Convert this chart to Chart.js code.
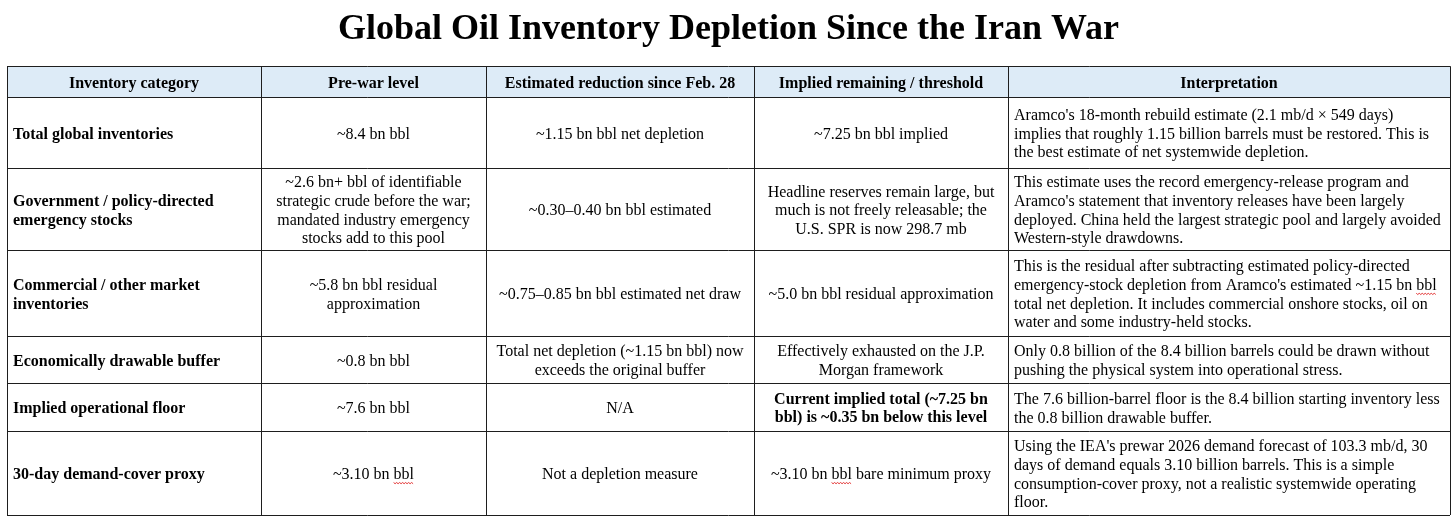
<!DOCTYPE html>
<html>
<head>
<meta charset="utf-8">
<script src="https://cdn.jsdelivr.net/npm/chart.js@4/dist/chart.umd.min.js"></script>
<style>
  html, body { margin: 0; padding: 0; background: #fff; }
  #wrap { width: 1456px; height: 522px; }
</style>
</head>
<body>
<div id="wrap"><canvas id="inventoryTable"></canvas></div>
<script>
// Table contents
const title = "Global Oil Inventory Depletion Since the Iran War";

const headers = [
  "Inventory category",
  "Pre-war level",
  "Estimated reduction since Feb. 28",
  "Implied remaining / threshold",
  "Interpretation",
];

const categories = [
  "Total global inventories",
  "Government / policy-directed\nemergency stocks",
  "Commercial / other market\ninventories",
  "Economically drawable buffer",
  "Implied operational floor",
  "30-day demand-cover proxy",
];

const preWarLevel = [
  "~8.4 bn bbl",
  "~2.6 bn+ bbl of identifiable\nstrategic crude before the war;\nmandated industry emergency\nstocks add to this pool",
  "~5.8 bn bbl residual\napproximation",
  "~0.8 bn bbl",
  "~7.6 bn bbl",
  "~3.10 bn bbl",
];

const reduction = [
  "~1.15 bn bbl net depletion",
  "~0.30\u20130.40 bn bbl estimated",
  "~0.75\u20130.85 bn bbl estimated net draw",
  "Total net depletion (~1.15 bn bbl) now\nexceeds the original buffer",
  "N/A",
  "Not a depletion measure",
];

const remaining = [
  "~7.25 bn bbl implied",
  "Headline reserves remain large, but\nmuch is not freely releasable; the\nU.S. SPR is now 298.7 mb",
  "~5.0 bn bbl residual approximation",
  "Effectively exhausted on the J.P.\nMorgan framework",
  "Current implied total (~7.25 bn\nbbl) is ~0.35 bn below this level",
  "~3.10 bn bbl bare minimum proxy",
];

const interpretation = [
  "Aramco's 18-month rebuild estimate (2.1 mb/d \u00d7 549 days)\nimplies that roughly 1.15 billion barrels must be restored. This is\nthe best estimate of net systemwide depletion.",
  "This estimate uses the record emergency-release program and\nAramco's statement that inventory releases have been largely\ndeployed. China held the largest strategic pool and largely avoided\nWestern-style drawdowns.",
  "This is the residual after subtracting estimated policy-directed\nemergency-stock depletion from Aramco's estimated ~1.15 bn bbl\ntotal net depletion. It includes commercial onshore stocks, oil on\nwater and some industry-held stocks.",
  "Only 0.8 billion of the 8.4 billion barrels could be drawn without\npushing the physical system into operational stress.",
  "The 7.6 billion-barrel floor is the 8.4 billion starting inventory less\nthe 0.8 billion drawable buffer.",
  "Using the IEA's prewar 2026 demand forecast of 103.3 mb/d, 30\ndays of demand equals 3.10 billion barrels. This is a simple\nconsumption-cover proxy, not a realistic systemwide operating\nfloor.",
];

// cells written in bold besides the first column: [row, col]
const boldCells = [[4, 3]];
// words flagged by the spell checker: [row, col, word]
const flagged = [[5, 1, "bbl"], [5, 3, "bbl"], [2, 4, "bbl"]];

// Layout (not data)
const colWidths = [254, 225, 268, 254, 442];
const rowHeights = [31, 71, 82, 86, 47, 48, 84];
const serif = "'Liberation Serif', 'Times New Roman', serif";
const lineH = 18.6;

const cumul = (arr) => arr.reduce((acc, v) => { acc.push(acc[acc.length - 1] + v); return acc; }, [0]);
const colEdges = cumul(colWidths);
const rowEdges = cumul(rowHeights);
const columns = [categories, preWarLevel, reduction, remaining, interpretation];

const tablePlugin = {
  id: "tableCells",
  beforeDraw(chart) {
    const { ctx, scales } = chart;
    const x0 = scales.x.getPixelForValue(colEdges[0]);
    const x1 = scales.x.getPixelForValue(colEdges[colEdges.length - 1]);
    const y0 = scales.y.getPixelForValue(rowEdges[0]);
    const y1 = scales.y.getPixelForValue(rowEdges[1]);
    ctx.save();
    ctx.fillStyle = "#ddebf7";
    ctx.fillRect(x0, y0, x1 - x0, y1 - y0);
    ctx.restore();
  },
  afterDraw(chart) {
    const { ctx, scales } = chart;
    ctx.save();
    ctx.fillStyle = "#000";
    ctx.textBaseline = "middle";

    const drawCell = (text, row, col, bold, align) => {
      const left = scales.x.getPixelForValue(colEdges[col]);
      const right = scales.x.getPixelForValue(colEdges[col + 1]);
      const top = scales.y.getPixelForValue(rowEdges[row]);
      const bottom = scales.y.getPixelForValue(rowEdges[row + 1]);
      const lines = text.split("\n");
      const midY = (top + bottom) / 2 + 2;
      ctx.font = (bold ? "bold " : "") + "16px " + serif;
      ctx.textAlign = align;
      const tx = align === "center" ? (left + right) / 2 : left + 6;
      lines.forEach((ln, i) => {
        const y = midY + (i - (lines.length - 1) / 2) * lineH;
        ctx.fillText(ln, tx, y);
      });
      return { lines, tx, midY, align };
    };

    // header row
    headers.forEach((h, c) => drawCell(h, 0, c, true, "center"));

    // body rows
    columns.forEach((colData, c) => {
      colData.forEach((txt, r) => {
        const bold = c === 0 || boldCells.some(([br, bc]) => br === r && bc === c);
        const align = c === 0 || c === 4 ? "left" : "center";
        const info = drawCell(txt, r + 1, c, bold, align);

        flagged.filter(([fr, fc]) => fr === r && fc === c).forEach(([, , word]) => {
          info.lines.forEach((ln, i) => {
            const idx = ln.lastIndexOf(word);
            if (idx < 0 || (c === 3 && i > 0)) return;
            const full = ctx.measureText(ln).width;
            const startX = info.align === "center" ? info.tx - full / 2 : info.tx;
            const sx = startX + ctx.measureText(ln.slice(0, idx)).width;
            const w = ctx.measureText(word).width;
            const y = info.midY + (i - (info.lines.length - 1) / 2) * lineH + 7.5;
            ctx.save();
            ctx.strokeStyle = "#e02020";
            ctx.lineWidth = 0.9;
            ctx.beginPath();
            for (let k = 0; k <= w; k += 1.5) {
              const yy = y + ((Math.round(k / 1.5) % 2) ? 1.2 : 0);
              if (k === 0) ctx.moveTo(sx + k, yy); else ctx.lineTo(sx + k, yy);
            }
            ctx.stroke();
            ctx.restore();
          });
        });
      });
    });
    ctx.restore();
  },
};

const gridScale = (edges, extra) => Object.assign({
  type: "linear",
  min: 0,
  max: edges[edges.length - 1],
  afterBuildTicks: (scale) => { scale.ticks = edges.map((v) => ({ value: v })); },
  ticks: { display: false },
  grid: { color: "#1e1e1e", lineWidth: 1, drawTicks: false },
  border: { display: false },
}, extra);

const ctx = document.getElementById("inventoryTable").getContext("2d");
new Chart(ctx, {
  type: "scatter",
  data: { datasets: [] },
  options: {
    responsive: true,
    maintainAspectRatio: false,
    animation: false,
    events: [],
    layout: { padding: { left: 7, right: 6, top: 7, bottom: 7 } },
    plugins: {
      legend: { display: false },
      tooltip: { enabled: false },
      title: {
        display: true,
        text: title,
        color: "#000",
        font: { family: serif, size: 36, weight: "bold", lineHeight: 1.2 },
        padding: { top: 1, bottom: 15 },
      },
    },
    scales: {
      x: gridScale(colEdges, {}),
      y: gridScale(rowEdges, { reverse: true }),
    },
  },
  plugins: [tablePlugin],
});
</script>
</body>
</html>
